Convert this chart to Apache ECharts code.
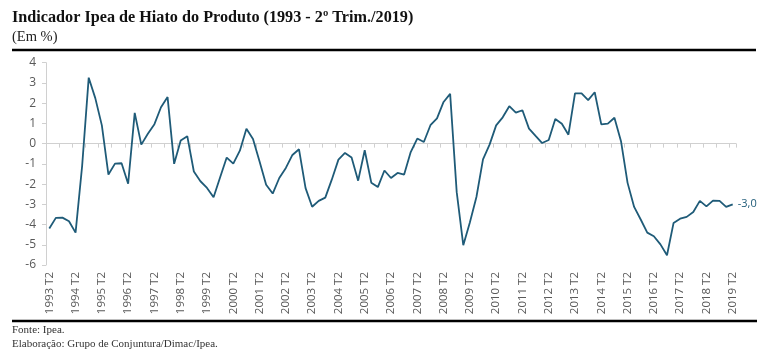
<!DOCTYPE html>
<html>
<head>
<meta charset="utf-8">
<script src="https://cdn.jsdelivr.net/npm/echarts@6/dist/echarts.min.js"></script>
<style>
html,body{margin:0;padding:0;background:#fff;}
#chart{width:768px;height:357px;}
</style>
</head>
<body>
<div id="chart"></div>
<script>
// Quarterly periods, 1993 T2 .. 2019 T2
const startYear = 1993;
const endYear = 2019;
const quarterNames = ['T1', 'T2', 'T3', 'T4'];
const categories = [];
for (let y = startYear; y <= endYear; y++) {
  for (let q = 0; q < 4; q++) {
    if (y === startYear && q < 1) continue;
    if (y === endYear && q > 1) continue;
    categories.push(y + ' ' + quarterNames[q]);
  }
}

// Ipea output gap indicator (%)
const hiato = [
  -4.2, -3.67, -3.66, -3.84, -4.4, -1.1, 3.26, 2.25, 0.9, -1.53,
  -0.99, -0.97, -1.98, 1.52, -0.05, 0.49, 0.96, 1.8, 2.3, -1.0,
  0.16, 0.37, -1.38, -1.86, -2.19, -2.65, -1.66, -0.69, -0.99, -0.35,
  0.73, 0.23, -0.88, -2.03, -2.47, -1.7, -1.2, -0.56, -0.28, -2.2,
  -3.12, -2.83, -2.67, -1.77, -0.79, -0.46, -0.69, -1.83, -0.33, -1.93,
  -2.15, -1.33, -1.7, -1.45, -1.53, -0.42, 0.25, 0.08, 0.91, 1.25,
  2.06, 2.46, -2.4, -5.02, -3.9, -2.64, -0.78, -0.05, 0.9, 1.3,
  1.85, 1.53, 1.65, 0.74, 0.38, 0.03, 0.18, 1.22, 0.98, 0.44,
  2.48, 2.48, 2.15, 2.54, 0.95, 0.99, 1.28, 0.12, -1.94, -3.13,
  -3.75, -4.4, -4.58, -4.98, -5.52, -3.92, -3.71, -3.62, -3.38, -2.83,
  -3.1, -2.82, -2.83, -3.13, -3.0
];

const yTicks = [-6, -5, -4, -3, -2, -1, 0, 1, 2, 3, 4];

const titleText = 'Indicador Ipea de Hiato do Produto (1993 - 2º Trim./2019)';
const subtitleText = '(Em %)';
const sourceText = 'Fonte: Ipea.';
const creditText = 'Elaboração: Grupo de Conjuntura/Dimac/Ipea.';

const lineColor = '#1f5b78';
const axisGray = '#d0d0d0';
const labelGray = '#595959';
const sansFont = '"Open Sans", "Liberation Sans", sans-serif';
const serifFont = '"Liberation Serif", "DejaVu Serif", serif';

const chart = echarts.init(document.getElementById('chart'), null, {renderer: 'canvas'});
chart.setOption({
  animation: false,
  backgroundColor: '#fff',
  grid: {left: 46, right: 32, top: 62.7, bottom: 92, containLabel: false},
  xAxis: [{
    type: 'category',
    data: categories,
    boundaryGap: true,
    axisLine: {onZero: true, lineStyle: {color: axisGray, width: 1}},
    axisTick: {show: true, interval: 1, length: 4, lineStyle: {color: axisGray}},
    axisLabel: {show: false},
    splitLine: {show: false}
  }, {
    type: 'category',
    data: categories,
    position: 'bottom',
    boundaryGap: true,
    axisLine: {show: false, onZero: false},
    axisTick: {show: false},
    axisLabel: {
      show: true, interval: 3, rotate: 90, margin: 7,
      color: labelGray, fontSize: 11.5, fontFamily: sansFont
    },
    splitLine: {show: false}
  }],
  yAxis: {
    type: 'value',
    min: yTicks[0], max: yTicks[yTicks.length - 1], interval: 1,
    axisLine: {show: true, lineStyle: {color: axisGray}},
    axisTick: {show: true, length: 4, lineStyle: {color: axisGray}},
    axisLabel: {color: labelGray, fontSize: 12, fontFamily: sansFont, margin: 10},
    splitLine: {show: false}
  },
  series: [{
    type: 'line',
    xAxisIndex: 0,
    data: hiato,
    showSymbol: false,
    symbol: 'none',
    lineStyle: {color: lineColor, width: 1.8},
    itemStyle: {color: lineColor},
    endLabel: {
      show: true,
      formatter: p => p.value.toFixed(1).replace('.', ','),
      color: lineColor, fontSize: 11, fontFamily: sansFont, distance: 5
    }
  }],
  graphic: [
    {type: 'text', left: 12, top: 10, style: {text: titleText, font: 'bold 16.2px ' + serifFont, fill: '#111'}},
    {type: 'text', left: 12, top: 30, style: {text: subtitleText, font: '14.5px ' + serifFont, fill: '#222'}},
    {type: 'rect', shape: {x: 12, y: 48.8, width: 744, height: 2.4}, style: {fill: '#000'}},
    {type: 'rect', shape: {x: 12, y: 319.8, width: 745, height: 2.4}, style: {fill: '#000'}},
    {type: 'text', left: 12, top: 325, style: {text: sourceText, font: '11px ' + serifFont, fill: '#333'}},
    {type: 'text', left: 12, top: 339, style: {text: creditText, font: '11px ' + serifFont, fill: '#333'}}
  ]
});
</script>
</body>
</html>
